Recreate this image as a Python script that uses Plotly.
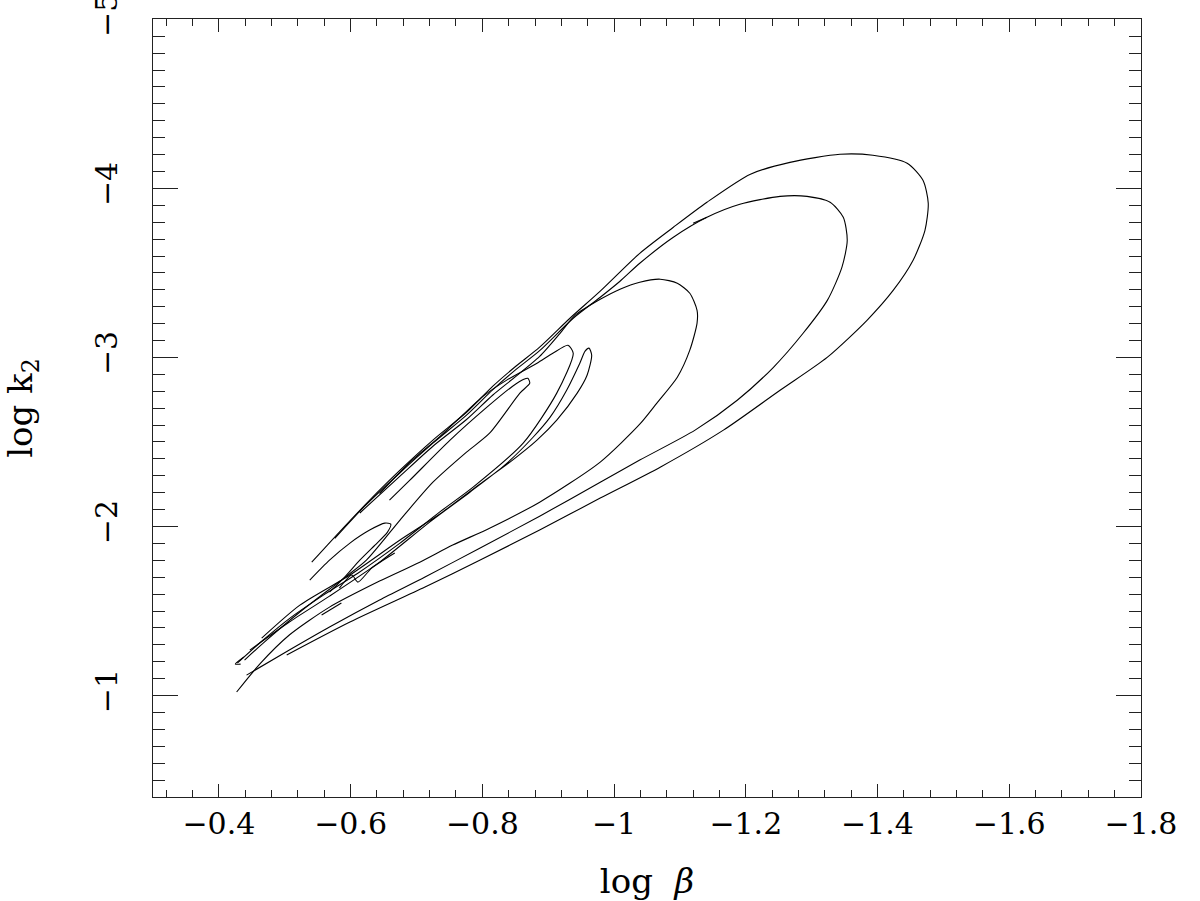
"""
Contours of log k2 against log beta, redrawn with plotly.
"""
import plotly.graph_objects as go

# outer contour
a_x = [-0.541, -0.583, -0.629, -0.675, -0.725, -0.776, -0.816, -0.849, -0.887, -0.933, -0.979, -1.039,
       -1.090, -1.141, -1.207, -1.267, -1.343, -1.393, -1.445, -1.469, -1.477, -1.472, -1.454, -1.424,
       -1.384, -1.324, -1.252, -1.166, -1.070, -0.979, -0.887, -0.796, -0.713, -0.599, -0.503]
a_y = [-1.789, -1.967, -2.156, -2.333, -2.511, -2.676, -2.830, -2.942, -3.061, -3.232, -3.392, -3.616,
       -3.770, -3.918, -4.084, -4.154, -4.202, -4.196, -4.149, -4.048, -3.912, -3.752, -3.575, -3.398,
       -3.220, -3.002, -2.806, -2.570, -2.351, -2.168, -1.979, -1.801, -1.642, -1.435, -1.240]

# second contour
b_x = [-0.576, -0.621, -0.675, -0.725, -0.776, -0.816, -0.849, -0.887, -0.938, -0.979, -1.009, -1.039,
       -1.090, -1.141, -1.191, -1.252, -1.293, -1.328, -1.348, -1.354, -1.346, -1.324, -1.287, -1.242,
       -1.187, -1.123, -1.039, -0.979, -0.887, -0.796, -0.713, -0.644, -0.568, -0.507, -0.442]
b_y = [-1.930, -2.119, -2.318, -2.493, -2.659, -2.810, -2.922, -3.040, -3.232, -3.356, -3.451, -3.557,
       -3.711, -3.829, -3.906, -3.953, -3.953, -3.918, -3.829, -3.693, -3.534, -3.339, -3.143, -2.942,
       -2.747, -2.570, -2.393, -2.262, -2.061, -1.872, -1.701, -1.565, -1.405, -1.269, -1.121]

# third contour
c_x = [-0.614, -0.675, -0.725, -0.776, -0.816, -0.849, -0.887, -0.918, -0.941, -0.979, -1.009, -1.039,
       -1.070, -1.096, -1.115, -1.126, -1.126, -1.115, -1.096, -1.065, -1.039, -0.979, -0.887, -0.811,
       -0.755, -0.705, -0.644, -0.568, -0.507, -0.462, -0.427]
c_y = [-2.080, -2.298, -2.475, -2.633, -2.778, -2.882, -3.006, -3.143, -3.250, -3.344, -3.404, -3.445,
       -3.463, -3.439, -3.380, -3.279, -3.203, -3.043, -2.883, -2.730, -2.605, -2.381, -2.144, -1.990,
       -1.890, -1.789, -1.677, -1.523, -1.358, -1.186, -1.021]

# inner loops
f_x = [-0.644, -0.690, -0.735, -0.801, -0.837, -0.883, -0.907, -0.930, -0.938, -0.913, -0.862, -0.786,
       -0.735, -0.675, -0.611, -0.561, -0.510, -0.462, -0.428]
f_y = [-2.195, -2.380, -2.530, -2.770, -2.866, -2.966, -3.025, -3.072, -3.025, -2.789, -2.493, -2.233,
       -2.085, -1.902, -1.724, -1.600, -1.464, -1.311, -1.192]

g_x = [-0.447, -0.507, -0.568, -0.644, -0.720, -0.781, -0.834, -0.877, -0.903, -0.928, -0.948, -0.956,
       -0.962, -0.966, -0.959, -0.944, -0.913, -0.883, -0.842, -0.796, -0.735, -0.675, -0.599, -0.523,
       -0.465]
g_y = [-1.269, -1.435, -1.588, -1.789, -2.026, -2.203, -2.363, -2.528, -2.647, -2.806, -2.966, -3.037,
       -3.055, -3.013, -2.895, -2.789, -2.629, -2.511, -2.381, -2.251, -2.073, -1.920, -1.713, -1.535,
       -1.340]

e_x = [-0.659, -0.690, -0.751, -0.807, -0.846, -0.863, -0.869, -0.872, -0.857, -0.811, -0.776, -0.725,
       -0.675, -0.624, -0.588, -0.523, -0.469, -0.439]
e_y = [-2.156, -2.274, -2.511, -2.706, -2.830, -2.871, -2.877, -2.848, -2.789, -2.552, -2.440, -2.262,
       -2.038, -1.801, -1.689, -1.494, -1.316, -1.210]

d_x = [-0.538, -0.568, -0.599, -0.629, -0.652, -0.661, -0.656, -0.637, -0.614, -0.591, -0.568]
d_y = [-1.683, -1.801, -1.902, -1.979, -2.020, -2.014, -1.967, -1.890, -1.801, -1.701, -1.612]

# short bits
h_x = [-0.583, -0.602, -0.611, -0.632, -0.667]
h_y = [-1.636, -1.713, -1.671, -1.754, -1.843]
i_x = [-0.556, -0.586]
i_y = [-1.476, -1.547]
j_x = [-1.120, -1.141]
j_y = [-3.794, -3.829]
k_x = [-0.438, -0.425, -0.433]
k_y = [-1.228, -1.186, -1.186]

x_ticks = [-0.4, -0.6, -0.8, -1.0, -1.2, -1.4, -1.6, -1.8]
x_labels = ['\u22120.4', '\u22120.6', '\u22120.8', '\u22121', '\u22121.2', '\u22121.4', '\u22121.6', '\u22121.8']
y_ticks = [-1, -2, -3, -4, -5]
y_labels = ['\u22121', '\u22122', '\u22123', '\u22124', '\u22125']

curves = [(a_x, a_y), (b_x, b_y), (c_x, c_y), (f_x, f_y), (g_x, g_y), (e_x, e_y),
          (d_x, d_y), (h_x, h_y), (i_x, i_y), (j_x, j_y), (k_x, k_y)]

FONT = 'DejaVu Serif'

fig = go.Figure()
for xs, ys in curves:
    fig.add_trace(go.Scatter(
        x=xs, y=ys, mode='lines',
        line=dict(color='black', width=1.1, shape='spline', smoothing=0.7),
        showlegend=False, hoverinfo='skip'
    ))

axis_common = dict(
    showline=True, linecolor='#222', linewidth=1, mirror='allticks',
    ticks='inside', tickcolor='#222', tickwidth=1,
    showgrid=False, zeroline=False, automargin=False,
    ticklabeloverflow='allow',
    tickfont=dict(family=FONT, size=30, color='black'),
)

fig.update_xaxes(
    range=[-0.3, -1.8], tickvals=x_ticks, ticktext=x_labels, ticklen=13,
    minor=dict(dtick=0.04, tick0=0, ticks='inside', ticklen=7, tickcolor='#222', showgrid=False),
    ticklabelstandoff=0,
    title=dict(text='log  <i>\u03b2</i>', font=dict(family=FONT, size=34, color='black'), standoff=30),
    **axis_common
)
fig.update_yaxes(
    range=[-0.4, -5.002], tickvals=y_ticks, ticktext=y_labels, ticklen=25, tickangle=-90,
    minor=dict(dtick=0.1, tick0=0, ticks='inside', ticklen=12, tickcolor='#222', showgrid=False),
    ticklabelstandoff=23,
    title=dict(text='log k<sub>2</sub>', font=dict(family=FONT, size=34, color='black'), standoff=50),
    **axis_common
)

fig.update_layout(
    width=1200, height=901,
    margin=dict(l=153, r=59, t=19, b=104),
    paper_bgcolor='white', plot_bgcolor='white',
)

fig.write_html("out.html", config={'displayModeBar': False},
               post_script="document.body.style.margin='0';")
